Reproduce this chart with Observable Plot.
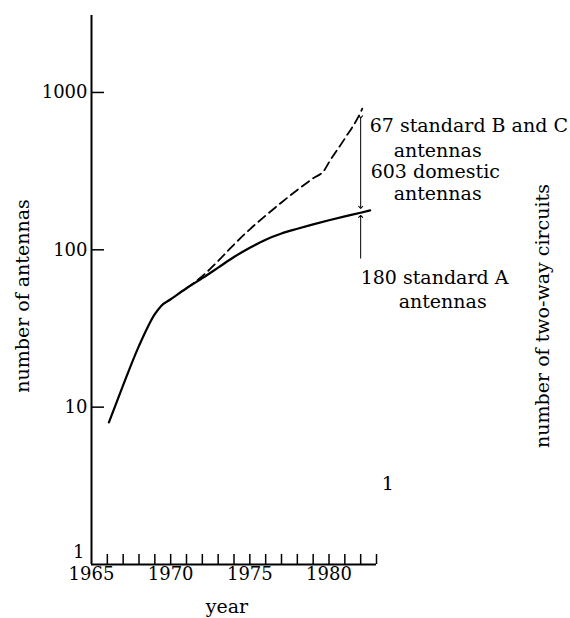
<!DOCTYPE html>
<html>
<head>
<meta charset="utf-8">
<script src="https://cdn.jsdelivr.net/npm/d3@7"></script>
<script src="https://cdn.jsdelivr.net/npm/@observablehq/plot@0.6"></script>
<style>
  body { margin: 0; background: #fff; }
  #chart svg { display: block; }
</style>
</head>
<body>
<div id="chart"></div>
<script>
// ---- data ----
const solidYears  = [1966.1, 1967, 1968, 1969, 1969.4, 1970, 1971, 1972, 1973, 1974, 1975, 1976, 1977, 1978, 1979, 1980, 1981, 1982, 1982.6];
const solidValues = [8, 13.8, 24.5, 39, 44, 48.5, 57, 66, 77, 90, 103, 116, 127, 136, 145, 154, 163, 172, 178];

const dashedYears  = [1971, 1972, 1973, 1974, 1975, 1976, 1977, 1978, 1979, 1979.7, 1980, 1981, 1982, 1982.1];
const dashedValues = [57, 68, 85, 108, 135, 165, 200, 240, 285, 320, 360, 510, 750, 790];

const xTickYears  = [1966, 1967, 1968, 1969, 1970, 1971, 1972, 1973, 1974, 1975, 1976, 1977, 1978, 1979, 1980, 1981, 1982, 1983];
const xTickLabels = [1965, 1970, 1975, 1980];
const yTickValues = [1, 10, 100, 1000];

const xTitle  = "year";
const yTitle  = "number of antennas";
const y2Title = "number of two-way circuits";

const noteYear = 1982;
const upperArrow = [700, 186];   // 67 + 603 span
const lowerArrow = [88, 163];    // pointing at 180 standard A
const noteLines = ["67 standard B and C", "antennas", "603 domestic", "antennas", "180 standard A", "antennas", "1"];
const noteLevels = [617, 428, 311, 228, 66, 46.5, 3.27];

// ---- layout ----
const noteOffsets = [9, 33, 10, 33, 0, 38, 21];

const solid  = solidYears.map((year, i) => ({year, value: solidValues[i]}));
const dashed = dashedYears.map((year, i) => ({year, value: dashedValues[i]}));

const FONT = "DejaVu Serif";

const noteMarks = noteLines.map((t, i) =>
  Plot.text([t], {x: () => noteYear, y: () => noteLevels[i], dx: noteOffsets[i],
    textAnchor: "start", fontSize: 19, fill: "black"})
);

const chart = Plot.plot({
  width: 570,
  height: 618,
  marginLeft: 91,
  marginRight: 194,
  marginTop: 15,
  marginBottom: 54,
  style: {fontFamily: FONT, fontSize: "19px", background: "white", color: "black", overflow: "visible"},
  x: {domain: [1965, 1983], axis: null},
  y: {type: "log", domain: [1, 3084], axis: null},
  marks: [
    // axis lines
    Plot.ruleX([1965], {stroke: "black", strokeWidth: 2}),
    Plot.ruleY([1], {stroke: "black", strokeWidth: 2}),
    // inward ticks
    Plot.axisX(xTickYears, {tickSize: -10, text: null, label: null, strokeWidth: 1.5}),
    Plot.axisY(yTickValues.slice(1), {tickSize: -13, text: null, label: null, strokeWidth: 1.5}),
    // tick labels
    Plot.axisX(xTickLabels, {tickSize: 0, tickPadding: 3, fontSize: 18, tickFormat: d => String(d), label: null}),
    Plot.axisY(yTickValues.slice(1), {tickSize: 0, tickPadding: 4, fontSize: 18, tickFormat: d => String(d), label: null}),
    Plot.axisY(yTickValues.slice(0, 1), {tickSize: 0, tickPadding: 7, dy: -12, fontSize: 18, tickFormat: d => String(d), label: null}),
    // curves
    Plot.line(dashed, {x: "year", y: "value", curve: "monotone-x", stroke: "black", strokeWidth: 1.8, strokeDasharray: "9,5"}),
    Plot.line(solid, {x: "year", y: "value", curve: "monotone-x", stroke: "black", strokeWidth: 2.2}),
    // arrows
    Plot.link([0], {x1: () => noteYear, x2: () => noteYear, y1: () => upperArrow[0], y2: () => upperArrow[1],
      stroke: "black", strokeWidth: 1, markerStart: "arrow", markerEnd: "arrow"}),
    Plot.link([0], {x1: () => noteYear, x2: () => noteYear, y1: () => lowerArrow[0], y2: () => lowerArrow[1],
      stroke: "black", strokeWidth: 1, markerEnd: "arrow"}),
    // annotations
    ...noteMarks,
    // titles
    Plot.text([xTitle], {frameAnchor: "bottom", textAnchor: "middle", dx: -7, dy: 48, fontSize: 19, fill: "black"}),
    Plot.text([yTitle], {frameAnchor: "left", textAnchor: "middle", rotate: -90, dx: -69, dy: 6, fontSize: 19, fill: "black"}),
    Plot.text([y2Title], {frameAnchor: "right", textAnchor: "middle", rotate: -90, dx: 166, dy: 26, fontSize: 19, fill: "black"})
  ]
});

document.getElementById("chart").appendChild(chart);
</script>
</body>
</html>
